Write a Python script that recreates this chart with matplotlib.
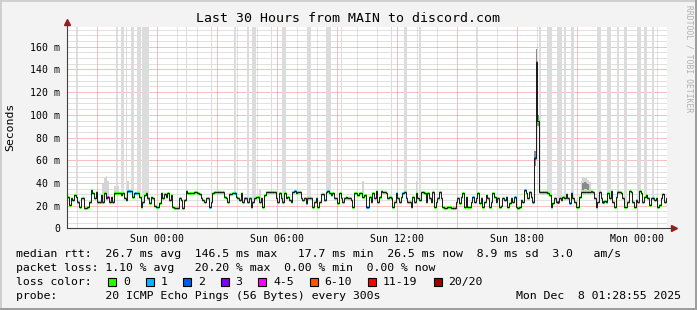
import pandas as pd
import matplotlib
matplotlib.use('Agg')
import matplotlib.pyplot as plt
import matplotlib.dates as mdates
from matplotlib.ticker import MultipleLocator, FuncFormatter
from matplotlib.patches import Rectangle
from matplotlib.lines import Line2D

plt.rcParams['font.family'] = 'DejaVu Sans Mono'

# median rtt in ms, one value per 5 minute step (360 steps = 30 hours)
median_rtt = [
    27.9, 20.6, 26.5, 25.0, 29.4, 27.9, 23.5, 19.1, 26.5, 26.5, 18.2, 18.2, 19.1, 23.5, 33.8,
    30.9, 26.5, 32.4, 23.5, 23.5, 29.4, 23.5, 30.9, 26.5, 27.9, 23.5, 27.9, 22.9, 30.9, 30.9,
    30.9, 30.9, 29.4, 30.9, 26.5, 25.0, 32.9, 32.9, 32.9, 27.9, 30.9, 30.9, 30.9, 27.9, 19.1,
    23.5, 29.4, 30.9, 26.5, 22.1, 27.9, 26.5, 20.0, 19.1, 19.1, 22.1, 30.9, 26.5, 30.0, 27.9,
    30.9, 25.0, 29.4, 19.1, 18.2, 18.2, 17.7, 26.5, 25.0, 18.2, 25.0, 32.9, 30.9, 30.9, 31.5,
    31.5, 31.8, 31.8, 30.9, 30.0, 26.5, 25.0, 22.9, 26.5, 27.1, 19.1, 23.5, 30.9, 31.8, 32.4,
    31.8, 32.4, 32.4, 31.8, 27.9, 26.5, 22.9, 30.0, 30.0, 30.9, 30.9, 27.9, 26.5, 25.0, 30.9,
    23.5, 26.5, 26.5, 22.9, 26.5, 19.1, 23.5, 26.5, 27.9, 27.9, 23.5, 26.5, 19.1, 29.4, 32.4,
    32.4, 32.4, 32.4, 32.4, 31.8, 26.5, 22.9, 30.9, 26.5, 22.9, 30.9, 26.5, 27.9, 25.0, 23.5,
    32.4, 32.9, 30.9, 32.4, 32.4, 26.5, 25.0, 27.1, 22.1, 26.5, 26.5, 27.1, 19.1, 23.5, 26.5,
    19.1, 23.5, 30.0, 30.0, 25.0, 32.4, 32.9, 30.9, 29.4, 30.9, 26.5, 26.5, 22.1, 30.9, 26.5,
    22.9, 27.1, 27.9, 26.5, 27.1, 25.0, 19.1, 30.9, 30.9, 29.4, 30.9, 30.9, 27.9, 29.4, 19.1,
    19.1, 27.9, 23.5, 30.9, 26.5, 32.9, 23.5, 27.9, 32.9, 32.4, 31.8, 30.9, 26.5, 27.9, 26.5,
    19.1, 23.5, 30.9, 26.5, 22.9, 27.9, 30.9, 31.8, 26.5, 23.5, 22.9, 19.1, 27.9, 23.5, 30.9,
    26.5, 25.0, 32.4, 32.4, 30.9, 23.5, 30.9, 26.5, 23.5, 32.4, 19.1, 23.5, 26.5, 32.4, 26.5,
    19.1, 18.2, 18.2, 18.8, 18.8, 18.2, 18.2, 18.2, 23.5, 27.1, 22.1, 27.9, 30.9, 19.1, 27.9,
    19.1, 19.1, 23.5, 27.9, 23.5, 26.5, 30.9, 22.1, 26.5, 19.1, 23.5, 29.4, 26.5, 19.1, 23.5,
    30.9, 27.9, 23.5, 26.5, 19.1, 20.0, 26.5, 25.0, 27.9, 19.1, 22.1, 26.5, 23.5, 27.9, 19.1,
    18.2, 19.1, 25.0, 23.5, 33.8, 30.9, 26.5, 32.4, 27.9, 23.5, 62.0, 146.5, 95.0, 31.8, 31.8,
    32.4, 32.4, 31.8, 30.9, 29.4, 19.1, 22.1, 26.5, 23.5, 22.9, 26.5, 25.0, 27.9, 26.5, 30.0,
    26.5, 22.1, 30.9, 26.5, 23.5, 19.1, 19.1, 27.9, 31.8, 31.8, 32.4, 31.8, 32.4, 32.4, 32.9,
    31.8, 26.5, 19.1, 23.5, 32.4, 26.5, 22.9, 24.1, 22.9, 30.9, 26.5, 32.9, 23.5, 19.1, 27.9,
    32.4, 32.4, 30.9, 26.5, 19.1, 19.1, 23.5, 32.9, 32.4, 23.5, 19.1, 25.0, 23.5, 32.9, 30.9,
    23.5, 27.9, 29.4, 26.5, 20.6, 26.5, 27.1, 25.0, 26.5, 19.1, 20.6, 26.5, 30.0, 23.5, 26.5,
]

# steps with lost pings (everything else lost 0 of 20)
lossy_steps = [6, 23, 24, 36, 37, 40, 41, 48, 53, 71, 85, 100, 106, 110, 129, 136, 143, 146,
               156, 158, 179, 180, 194, 197, 201, 243, 263, 268, 274, 279, 280, 281, 287, 290,
               294, 301, 302, 317, 321, 323, 330, 341, 351]
lossy_counts = [1, 2, 4, 1, 1, 1, 1, 1, 1, 1, 1, 1, 1, 1, 1, 1, 2, 1,
                1, 1, 2, 1, 2, 1, 1, 1, 1, 1, 1, 1, 2, 4, 1, 1,
                3, 1, 1, 1, 2, 1, 1, 1, 1]

loss_labels = ['0', '1', '2', '3', '4-5', '6-10', '11-19', '20/20']
loss_upper = [0, 1, 2, 3, 5, 10, 19, 20]
loss_colors = ['#26ff00', '#00b8ff', '#0059ff', '#7e00ff', '#ff00ff', '#ff5500', '#ff0000', '#a10000']

# smoke: steps where the slowest pings go off the top of the graph
smoke_full_steps = [5, 29, 32, 33, 35, 38, 39, 42, 43, 45, 46, 47, 48, 71, 86, 100, 108, 111,
                    112, 122, 129, 130, 144, 145, 155, 156, 157, 164, 194, 202, 203, 211, 245,
                    283, 288, 289, 290, 294, 295, 296, 298, 302, 303, 318, 319, 324, 325, 330,
                    334, 335, 342, 343, 346, 347, 351]
# smoke that stays inside the graph (top in ms)
smoke_part_steps = [21, 22, 23, 24, 28, 30, 36, 115, 177, 209, 308, 309, 310, 311, 312, 313]
smoke_part_top = [40, 44, 46, 42, 37, 37, 42, 35, 42, 42, 42, 45, 44, 45, 43, 41]
# dense (dark) smoke
smoke_dark_steps = [280, 281, 282, 309, 310, 311, 312]
smoke_dark_lo = [55, 135, 90, 34, 35, 35, 34]
smoke_dark_hi = [68, 158, 100, 40, 41, 40, 39]

legend_rows = [
    'median rtt:  26.7 ms avg  146.5 ms max   17.7 ms min  26.5 ms now  8.9 ms sd  3.0   am/s',
    'packet loss: 1.10 % avg   20.20 % max  0.00 % min  0.00 % now',
    'loss color:',
    'probe:       20 ICMP Echo Pings (56 Bytes) every 300s',
]
stamp = 'Mon Dec  8 01:28:55 2025'

W, H = 697, 310
edges = pd.date_range('2025-12-06 19:30', periods=len(median_rtt) + 1, freq='5min')
xe = mdates.date2num(edges)
step = xe[1] - xe[0]
t0 = mdates.date2num(pd.Timestamp('2025-12-06 19:28:55'))
t1 = mdates.date2num(pd.Timestamp('2025-12-08 01:28:55'))
ymax = 177.4

loss = [0] * len(median_rtt)
for i, c in zip(lossy_steps, lossy_counts):
    loss[i] = c


def loss_class(c):
    for k, up in enumerate(loss_upper):
        if c <= up:
            return k
    return len(loss_upper) - 1


fig = plt.figure(figsize=(W / 100, H / 100), dpi=100, facecolor='#f3f3f3')
ax = fig.add_axes([67 / W, 1 - 228.3 / H, 600 / W, 201.3 / H])
ax.set_facecolor('white')

# smoke
ax.bar([xe[i] for i in smoke_full_steps], [ymax + 5 - median_rtt[i] for i in smoke_full_steps],
       bottom=[median_rtt[i] for i in smoke_full_steps], width=step, align='edge',
       color='#dcdcdc', lw=0, zorder=2)
ax.bar([xe[i] for i in smoke_part_steps],
       [t - median_rtt[i] for i, t in zip(smoke_part_steps, smoke_part_top)],
       bottom=[median_rtt[i] for i in smoke_part_steps], width=step, align='edge',
       color='#d4d4d4', lw=0, zorder=2)
ax.bar([xe[i] for i in smoke_dark_steps], [h - l for l, h in zip(smoke_dark_lo, smoke_dark_hi)],
       bottom=smoke_dark_lo, width=step, align='edge', color='#8a8a8a', lw=0, zorder=2)

# median line: loss coloured bars with the black step line over them
for k, col in enumerate(loss_colors):
    idx = [i for i in range(len(median_rtt)) if loss_class(loss[i]) == k]
    if idx:
        ax.hlines([median_rtt[i] for i in idx], [xe[i] for i in idx], [xe[i + 1] for i in idx],
                  colors=col, lw=2.3, zorder=4)
ax.stairs(median_rtt, xe, color='#181818', lw=0.7, zorder=5, baseline=None)

ax.set_xlim(t0, t1)
ax.set_ylim(0, ymax)

# grid
dot = (0, (1, 1))
ax.xaxis.set_major_locator(mdates.HourLocator(byhour=range(0, 24, 3)))
ax.xaxis.set_minor_locator(mdates.HourLocator())
ax.yaxis.set_major_locator(MultipleLocator(20))
ax.yaxis.set_minor_locator(MultipleLocator(5))
ax.grid(which='minor', color='#c4c4c4', lw=0.72, ls=dot)
ax.grid(which='major', color='#f08080', lw=0.72, ls=dot)
ax.set_axisbelow(True)


def xlab(v, pos):
    d = mdates.num2date(v)
    return d.strftime('%a %H:%M') if d.hour % 6 == 0 else ''


ax.xaxis.set_major_formatter(FuncFormatter(xlab))
ax.yaxis.set_major_formatter(FuncFormatter(lambda v, p: '0' if v == 0 else f'{v:.0f} m'))
ax.tick_params(which='both', length=0, labelsize=7.1)
ax.tick_params(axis='x', pad=4)
ax.tick_params(axis='y', pad=5)

for s in ax.spines.values():
    s.set_visible(False)
axis_col = '#404040'
ax.add_line(Line2D([0, 0], [0, 1.02], transform=ax.transAxes, color=axis_col, lw=0.8,
                   clip_on=False, zorder=6))
ax.add_line(Line2D([0, 1.01], [0, 0], transform=ax.transAxes, color=axis_col, lw=0.8,
                   clip_on=False, zorder=6))
ax.plot([0], [1.025], marker='^', ms=4, color='#9b1c1c', transform=ax.transAxes, clip_on=False)
ax.plot([1.011], [0], marker='>', ms=4, color='#9b1c1c', transform=ax.transAxes, clip_on=False)

# texts
fig.text(347.5 / W, 1 - 19 / H, 'Last 30 Hours from MAIN to discord.com', ha='center', va='center',
         fontsize=9.5)
fig.text(10 / W, 1 - 127 / H, 'Seconds', rotation=90, ha='center', va='center', fontsize=8.25)
fig.text(689 / W, 1 - 5 / H, 'RRDTOOL / TOBI OETIKER', rotation=270, ha='center', va='top',
         fontsize=5.8, color='#b0b0b0')

row_y = [254.3, 268, 282, 296]
for txt, y in zip(legend_rows, row_y):
    fig.text(15.5 / W, 1 - y / H, txt, ha='left', va='center', fontsize=8.25)
fig.text(680.5 / W, 1 - row_y[3] / H, stamp, ha='right', va='center', fontsize=8.25)

tx = 123
for lab, col in zip(loss_labels, loss_colors):
    fig.patches.append(Rectangle(((tx - 15) / W, 1 - 286 / H), 8 / W, 8 / H, transform=fig.transFigure,
                                 facecolor=col, edgecolor='black', lw=0.8))
    fig.text(tx / W, 1 - row_y[2] / H, lab, ha='left', va='center', fontsize=8.25)
    tx += 7 * len(lab) + 30.5

# frame
fig.patches.append(Rectangle((0, 1 - 2 / H), 1, 2 / H, transform=fig.transFigure, color='#cfcfcf', lw=0))
fig.patches.append(Rectangle((0, 0), 2 / W, 1, transform=fig.transFigure, color='#cfcfcf', lw=0))
fig.patches.append(Rectangle((0, 0), 1, 2 / H, transform=fig.transFigure, color='#9e9e9e', lw=0))
fig.patches.append(Rectangle((1 - 2 / W, 0), 2 / W, 1, transform=fig.transFigure, color='#9e9e9e', lw=0))

fig.savefig('out.png', dpi=100, facecolor=fig.get_facecolor())
